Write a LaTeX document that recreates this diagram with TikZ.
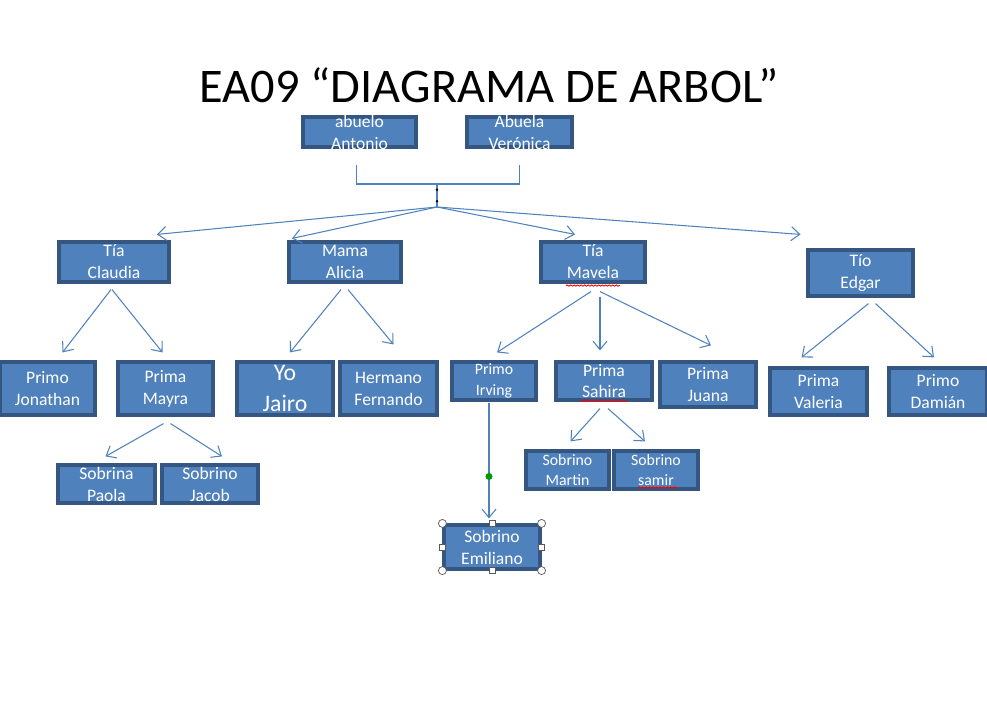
\documentclass[tikz,border=0pt]{standalone}
\usepackage{fontspec}
\setmainfont{Carlito}
\usetikzlibrary{arrows.meta, calc, decorations.pathmorphing}

\definecolor{azulcaja}{RGB}{79,129,189}
\definecolor{bordecaja}{RGB}{52,86,128}

\tikzset{
    caja/.style={draw=bordecaja, fill=azulcaja, line width=1.8pt, inner sep=0pt},
    texto/.style={text=white, align=center, inner sep=0pt, font=\fontsize{10}{12.5}\selectfont},
    textochico/.style={texto, font=\fontsize{9}{11.5}\selectfont},
    textogrande/.style={texto, font=\fontsize{13.5}{17.5}\selectfont},
    linea/.style={draw=azulcaja, line width=0.6pt},
    flecha/.style={linea, -{Straight Barb[length=1.7mm, width=2.8mm]}},
    ondulado/.style={red, line width=0.5pt, decorate, decoration={snake, amplitude=0.35pt, segment length=2pt}},
    asa/.style={draw=gray!70!black, fill=white, line width=0.4pt}
}

\begin{document}
\begin{tikzpicture}[x=0.02cm, y=-0.02cm]
            \useasboundingbox (0,0) rectangle (987,713);

            % 1. Titulo
            \node[anchor=base, font=\fontsize{27.5}{30}\selectfont] (titulo) at (489.5,103) {EA09 “DIAGRAMA DE ARBOL”};

            % 2. Abuelos
            \node[caja, minimum width=2.26cm, minimum height=0.60cm,
                label={[texto, name=t-abuelo]center:abuelo\\Antonio}] (abuelo) at (359.5,132) {};
            \node[caja, minimum width=2.10cm, minimum height=0.60cm,
                label={[texto, name=t-abuela]center:Abuela\\Verónica}] (abuela) at (519.5,132) {};

            % 3. Hijos
            \node[caja, minimum width=2.20cm, minimum height=0.80cm,
                label={[texto, name=t-claudia]center:Tía\\Claudia}] (claudia) at (114,262) {};
            \node[caja, minimum width=2.24cm, minimum height=0.80cm,
                label={[texto, name=t-alicia]center:Mama\\Alicia}] (alicia) at (345,262) {};
            \node[caja, minimum width=2.08cm, minimum height=0.80cm,
                label={[texto, name=t-mavela]center:Tía\\Mavela}] (mavela) at (593,262) {};
            \node[caja, minimum width=2.10cm, minimum height=0.92cm,
                label={[texto, name=t-edgar]center:Tío\\Edgar}] (edgar) at (860.5,273) {};

            % 4. Nietos
            \node[caja, minimum width=1.90cm, minimum height=1.06cm,
                label={[texto, name=t-jonathan]center:Primo\\Jonathan}] (jonathan) at (47.5,388.5) {};
            \node[caja, minimum width=1.90cm, minimum height=1.06cm,
                label={[texto, name=t-mayra]center:Prima\\Mayra}] (mayra) at (165.5,388.5) {};
            \node[caja, minimum width=1.92cm, minimum height=1.06cm,
                label={[textogrande, name=t-jairo]center:Yo\\Jairo}] (jairo) at (285,388.5) {};
            \node[caja, minimum width=1.94cm, minimum height=1.06cm,
                label={[texto, name=t-fernando]center:Hermano\\Fernando}] (fernando) at (388.5,388.5) {};
            \node[caja, minimum width=1.68cm, minimum height=0.76cm,
                label={[textochico, name=t-irving]center:Primo\\Irving}] (irving) at (494,381) {};
            \node[caja, minimum width=1.92cm, minimum height=0.76cm,
                label={[texto, name=t-sahira]center:Prima\\Sahira}] (sahira) at (604,381) {};
            \node[caja, minimum width=1.92cm, minimum height=0.90cm,
                label={[texto, name=t-juana]center:Prima\\Juana}] (juana) at (708,384.5) {};
            \node[caja, minimum width=1.94cm, minimum height=0.94cm,
                label={[texto, name=t-valeria]center:Prima\\Valeria}] (valeria) at (818.5,391.5) {};
            \node[caja, minimum width=1.96cm, minimum height=0.94cm,
                label={[texto, name=t-damian]center:Primo\\Damián}] (damian) at (938,391.5) {};

            % 5. Bisnietos
            \node[caja, minimum width=1.94cm, minimum height=0.76cm,
                label={[texto, name=t-paola]center:Sobrina\\Paola}] (paola) at (106.5,484) {};
            \node[caja, minimum width=1.92cm, minimum height=0.76cm,
                label={[texto, name=t-jacob]center:Sobrino\\Jacob}] (jacob) at (210,484) {};
            \node[caja, minimum width=1.66cm, minimum height=0.76cm,
                label={[textochico, name=t-martin]center:Sobrino\\Martin}] (martin) at (567.5,470) {};
            \node[caja, minimum width=1.68cm, minimum height=0.76cm,
                label={[textochico, name=t-samir]center:Sobrino\\samir}] (samir) at (656,470) {};
            \node[caja, minimum width=1.92cm, minimum height=0.88cm,
                label={[texto, name=t-emiliano]center:Sobrino\\Emiliano}] (emiliano) at (492,547) {};

            % 6. Union de los abuelos
            \coordinate (union) at (437,184);
            \coordinate (nudo) at (437,207);
            \draw[linea] ($(abuelo.south)+(-3,16)$) |- (union) -| ($(abuela.south)+(0,16)$);
            \draw[linea] (union) -- (nudo);
            \fill ($(union)!0.25!(nudo)$) circle (0.8pt);
            \fill ($(union)!0.75!(nudo)$) circle (0.8pt);
            \foreach \h/\dh in {claudia/{43,-6}, alicia/{-53,-2}, mavela/{-18,-6}, edgar/{-60,-14}} {
                \draw[flecha] (nudo) -- ($(\h.north)+(\dh)$);
            }

            % 7. Flechas de padres a hijos
            \foreach \p/\dp/\h/\dh in {
                claudia/{-3,6}/jonathan/{15,-8}, claudia/{-2,6}/mayra/{-3,-8},
                alicia/{-4,6}/jairo/{5,-8}, alicia/{3,6}/fernando/{5,-16},
                mavela/{-2,8}/irving/{3,-8}, mavela/{7,13}/sahira/{-4,-10}, mavela/{7,8}/juana/{3,-15},
                edgar/{8,6}/valeria/{-17,-9}, edgar/{15,6}/damian/{-4,-9},
                mayra/{-2,7}/paola/{-1,-7}, mayra/{5,7}/jacob/{12,-7},
                sahira/{-4,7}/martin/{3,-8}, sahira/{4,7}/samir/{-11,-8},
                irving/{-5,1}/emiliano/{-3,-5}} {
                \draw[flecha] ($(\p.south)+(\dp)$) -- ($(\h.north)+(\dh)$);
            }

            % 8. Subrayado de ortografia
            \draw[ondulado] ($(mavela.south)+(-27,2)$) -- ++(54,0);
            \draw[ondulado] ($(sahira.south)+(-24,-1)$) -- ++(47,0);
            \draw[ondulado] ($(samir.south)+(-18,-3)$) -- ++(40,0);

            % 9. Seleccion de Emiliano
            \fill[green!60!black] ($(emiliano.north)+(-3,-47)$) circle (2pt);
            \foreach \a in {north, south, east, west} {
                \draw[asa] ($(emiliano.\a)+(-3,-3)$) rectangle ++(6,6);
            }
            \foreach \a in {north east, north west, south east, south west} {
                \draw[asa] (emiliano.\a) circle (0.08cm);
            }
        \end{tikzpicture}
\end{document}
